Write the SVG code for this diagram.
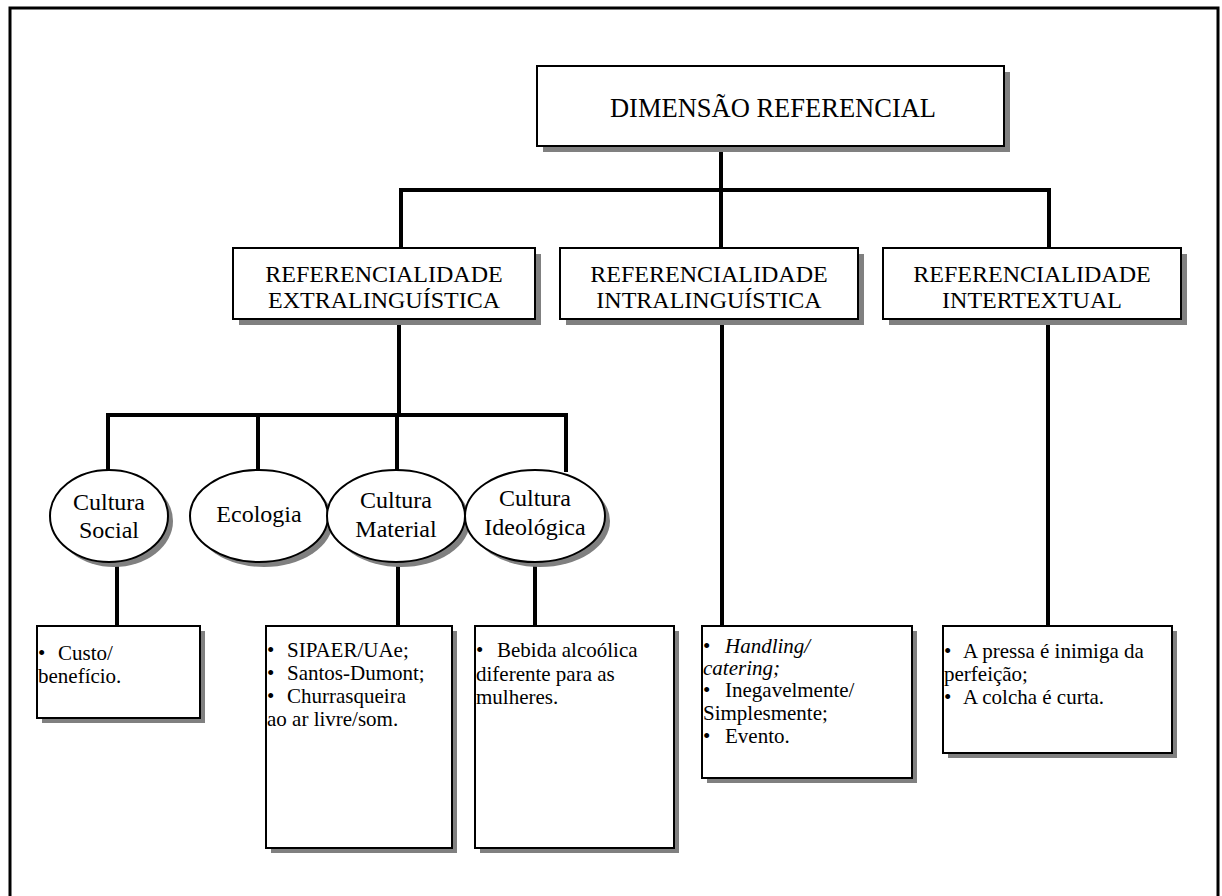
<svg xmlns="http://www.w3.org/2000/svg" width="1222" height="896" viewBox="0 0 1222 896">
<style>
.frame{fill:none;stroke:#000;stroke-width:3}
.box{fill:#fff;stroke:#000;stroke-width:2}
.sh{fill:#808080;stroke:none}
.conn{fill:none;stroke:#000;stroke-width:4;stroke-linecap:square}
.t{font-family:"Liberation Serif","Times New Roman",serif;font-size:24px;fill:#000}
.big{font-size:26.5px}
.c{text-anchor:middle}
.l{font-family:"Liberation Serif","Times New Roman",serif;font-size:21px;fill:#000}
.i{font-style:italic}
</style>
<rect width="1222" height="896" fill="#fff"/>
<rect class="frame" x="10" y="8" width="1208" height="910"/>

<g id="connectors">
<path class="conn" d="M721 146 V190"/>
<path class="conn" d="M401 190 H1049"/>
<path class="conn" d="M401 190 V248"/>
<path class="conn" d="M721 190 V248"/>
<path class="conn" d="M1049 190 V248"/>
<path class="conn" d="M399 319 V415"/>
<path class="conn" d="M108 415 H566"/>
<path class="conn" d="M108 415 V470"/>
<path class="conn" d="M258 415 V470"/>
<path class="conn" d="M397 415 V470"/>
<path class="conn" d="M566 415 V470"/>
<path class="conn" d="M117 560 V626"/>
<path class="conn" d="M398 560 V626"/>
<path class="conn" d="M535 560 V626"/>
<path class="conn" d="M722 319 V626"/>
<path class="conn" d="M1048 319 V626"/>
</g>

<g id="dimensao">
<rect class="sh" x="543" y="72" width="467" height="80"/>
<rect class="box" x="537" y="66" width="467" height="80"/>
<text class="t big c" x="773" y="117">DIMENSÃO REFERENCIAL</text>
</g>

<g id="extra">
<rect class="sh" x="239" y="254" width="302" height="71"/>
<rect class="box" x="233" y="248" width="302" height="71"/>
<text class="t c" x="384" y="282">REFERENCIALIDADE</text>
<text class="t c" x="384" y="308">EXTRALINGUÍSTICA</text>
</g>

<g id="intra">
<rect class="sh" x="566" y="254" width="298" height="71"/>
<rect class="box" x="560" y="248" width="298" height="71"/>
<text class="t c" x="709" y="282">REFERENCIALIDADE</text>
<text class="t c" x="709" y="308">INTRALINGUÍSTICA</text>
</g>

<g id="inter">
<rect class="sh" x="889" y="254" width="298" height="71"/>
<rect class="box" x="883" y="248" width="298" height="71"/>
<text class="t c" x="1032" y="282">REFERENCIALIDADE</text>
<text class="t c" x="1032" y="308">INTERTEXTUAL</text>
</g>

<g id="cultura-social">
<ellipse class="sh" cx="114" cy="521" rx="59" ry="46"/>
<ellipse class="box" cx="109" cy="516" rx="59" ry="46"/>
<text class="t c" x="109" y="510">Cultura</text>
<text class="t c" x="109" y="538">Social</text>
</g>

<g id="ecologia">
<ellipse class="sh" cx="264" cy="521" rx="69" ry="46"/>
<ellipse class="box" cx="259" cy="516" rx="69" ry="46"/>
<text class="t c" x="259" y="522">Ecologia</text>
</g>

<g id="cultura-material">
<ellipse class="sh" cx="401" cy="521" rx="69" ry="46"/>
<ellipse class="box" cx="396" cy="516" rx="69" ry="46"/>
<text class="t c" x="396" y="508">Cultura</text>
<text class="t c" x="396" y="537">Material</text>
</g>

<g id="cultura-ideologica">
<ellipse class="sh" cx="540" cy="521" rx="70" ry="46"/>
<ellipse class="box" cx="535" cy="516" rx="70" ry="46"/>
<text class="t c" x="535" y="506">Cultura</text>
<text class="t c" x="535" y="535">Ideológica</text>
</g>

<g id="leaf-social">
<rect class="sh" x="42" y="631" width="163" height="92"/>
<rect class="box" x="37" y="626" width="163" height="92"/>
<text class="l" x="38" y="660">•<tspan x="58">Custo/</tspan></text>
<text class="l" x="38" y="683">benefício.</text>
</g>

<g id="leaf-material">
<rect class="sh" x="271" y="631" width="186" height="222"/>
<rect class="box" x="266" y="626" width="186" height="222"/>
<text class="l" x="267" y="657">•<tspan x="287">SIPAER/UAe;</tspan></text>
<text class="l" x="267" y="680">•<tspan x="287">Santos-Dumont;</tspan></text>
<text class="l" x="267" y="703">•<tspan x="287">Churrasqueira</tspan></text>
<text class="l" x="267" y="726">ao ar livre/som.</text>
</g>

<g id="leaf-ideologica">
<rect class="sh" x="480" y="631" width="199" height="222"/>
<rect class="box" x="475" y="626" width="199" height="222"/>
<text class="l" x="476" y="657">•<tspan x="497">Bebida alcoólica</tspan></text>
<text class="l" x="476" y="681">diferente para as</text>
<text class="l" x="476" y="704">mulheres.</text>
</g>

<g id="leaf-intra">
<rect class="sh" x="707" y="631" width="210" height="152"/>
<rect class="box" x="702" y="626" width="210" height="152"/>
<text class="l" x="703" y="653">•<tspan class="i" x="725">Handling/</tspan></text>
<text class="l i" x="703" y="675">catering;</text>
<text class="l" x="703" y="697">•<tspan x="725">Inegavelmente/</tspan></text>
<text class="l" x="703" y="720">Simplesmente;</text>
<text class="l" x="703" y="743">•<tspan x="725">Evento.</tspan></text>
</g>

<g id="leaf-inter">
<rect class="sh" x="948" y="631" width="229" height="127"/>
<rect class="box" x="943" y="626" width="229" height="127"/>
<text class="l" x="944" y="658">•<tspan x="963">A pressa é inimiga da</tspan></text>
<text class="l" x="944" y="681">perfeição;</text>
<text class="l" x="944" y="704">•<tspan x="963">A colcha é curta.</tspan></text>
</g>
</svg>
